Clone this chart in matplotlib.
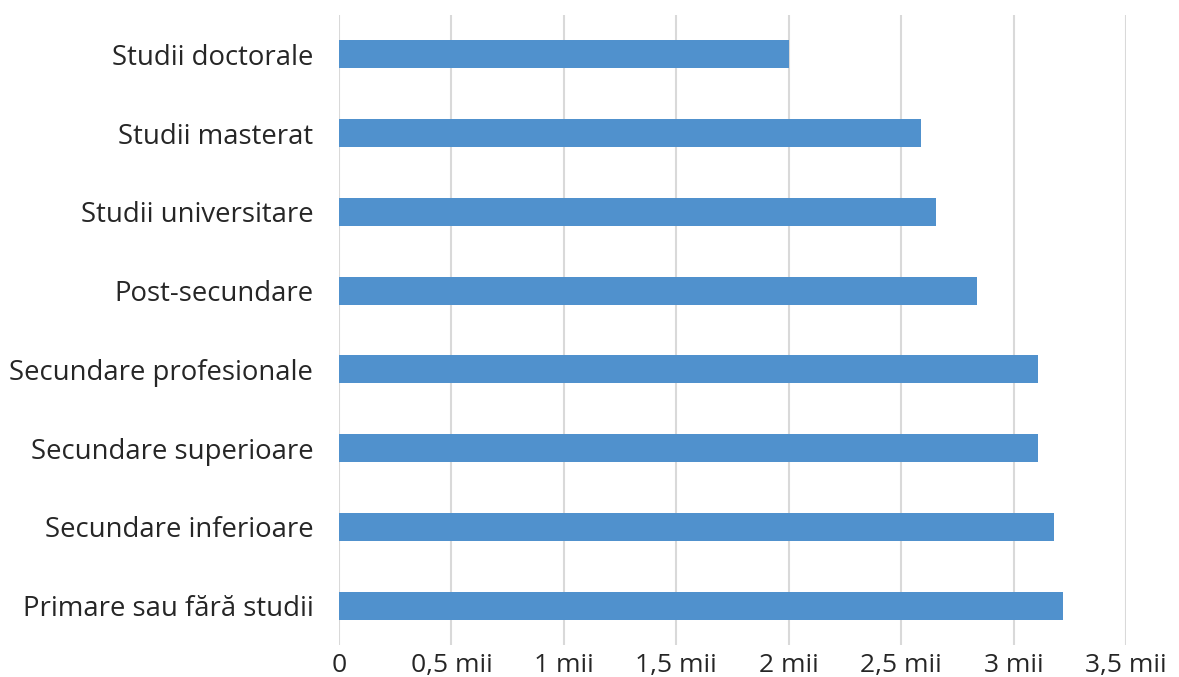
import matplotlib
matplotlib.use('Agg')
import matplotlib.pyplot as plt

plt.rcParams['font.family'] = ['Open Sans', 'DejaVu Sans']

categories = ['Primare sau fără studii', 'Secundare inferioare', 'Secundare superioare',
              'Secundare profesionale', 'Post-secundare', 'Studii universitare',
              'Studii masterat', 'Studii doctorale']
values = [3.222, 3.178, 3.107, 3.107, 2.836, 2.653, 2.587, 2.0]
xticks = [0, 0.5, 1, 1.5, 2, 2.5, 3, 3.5]
xticklabels = ['0', '0,5 mii', '1 mii', '1,5 mii', '2 mii', '2,5 mii', '3 mii', '3,5 mii']

fig = plt.figure(figsize=(11.79, 6.77), dpi=100)
ax = fig.add_axes([339/1179, 1 - 645/677, (1126 - 339)/1179, 630/677])

ax.barh(range(len(categories)), values, height=0.355, color='#5091cd', zorder=3)
ax.set_ylim(-0.5, len(categories) - 0.5)
ax.set_xlim(0, 3.5)
ax.set_yticks(range(len(categories)))
ax.set_yticklabels(categories, fontsize=19.8, color='#262626')
ax.set_xticks(xticks)
ax.set_xticklabels(xticklabels, fontsize=19, color='#262626')
ax.grid(axis='x', color='#d9d9d9', linewidth=1.5, zorder=0)
for s in ax.spines.values():
    s.set_visible(False)
ax.tick_params(axis='both', length=0)
ax.tick_params(axis='y', pad=18.5)
ax.tick_params(axis='x', pad=6)

fig.savefig('out.png', dpi=100)
